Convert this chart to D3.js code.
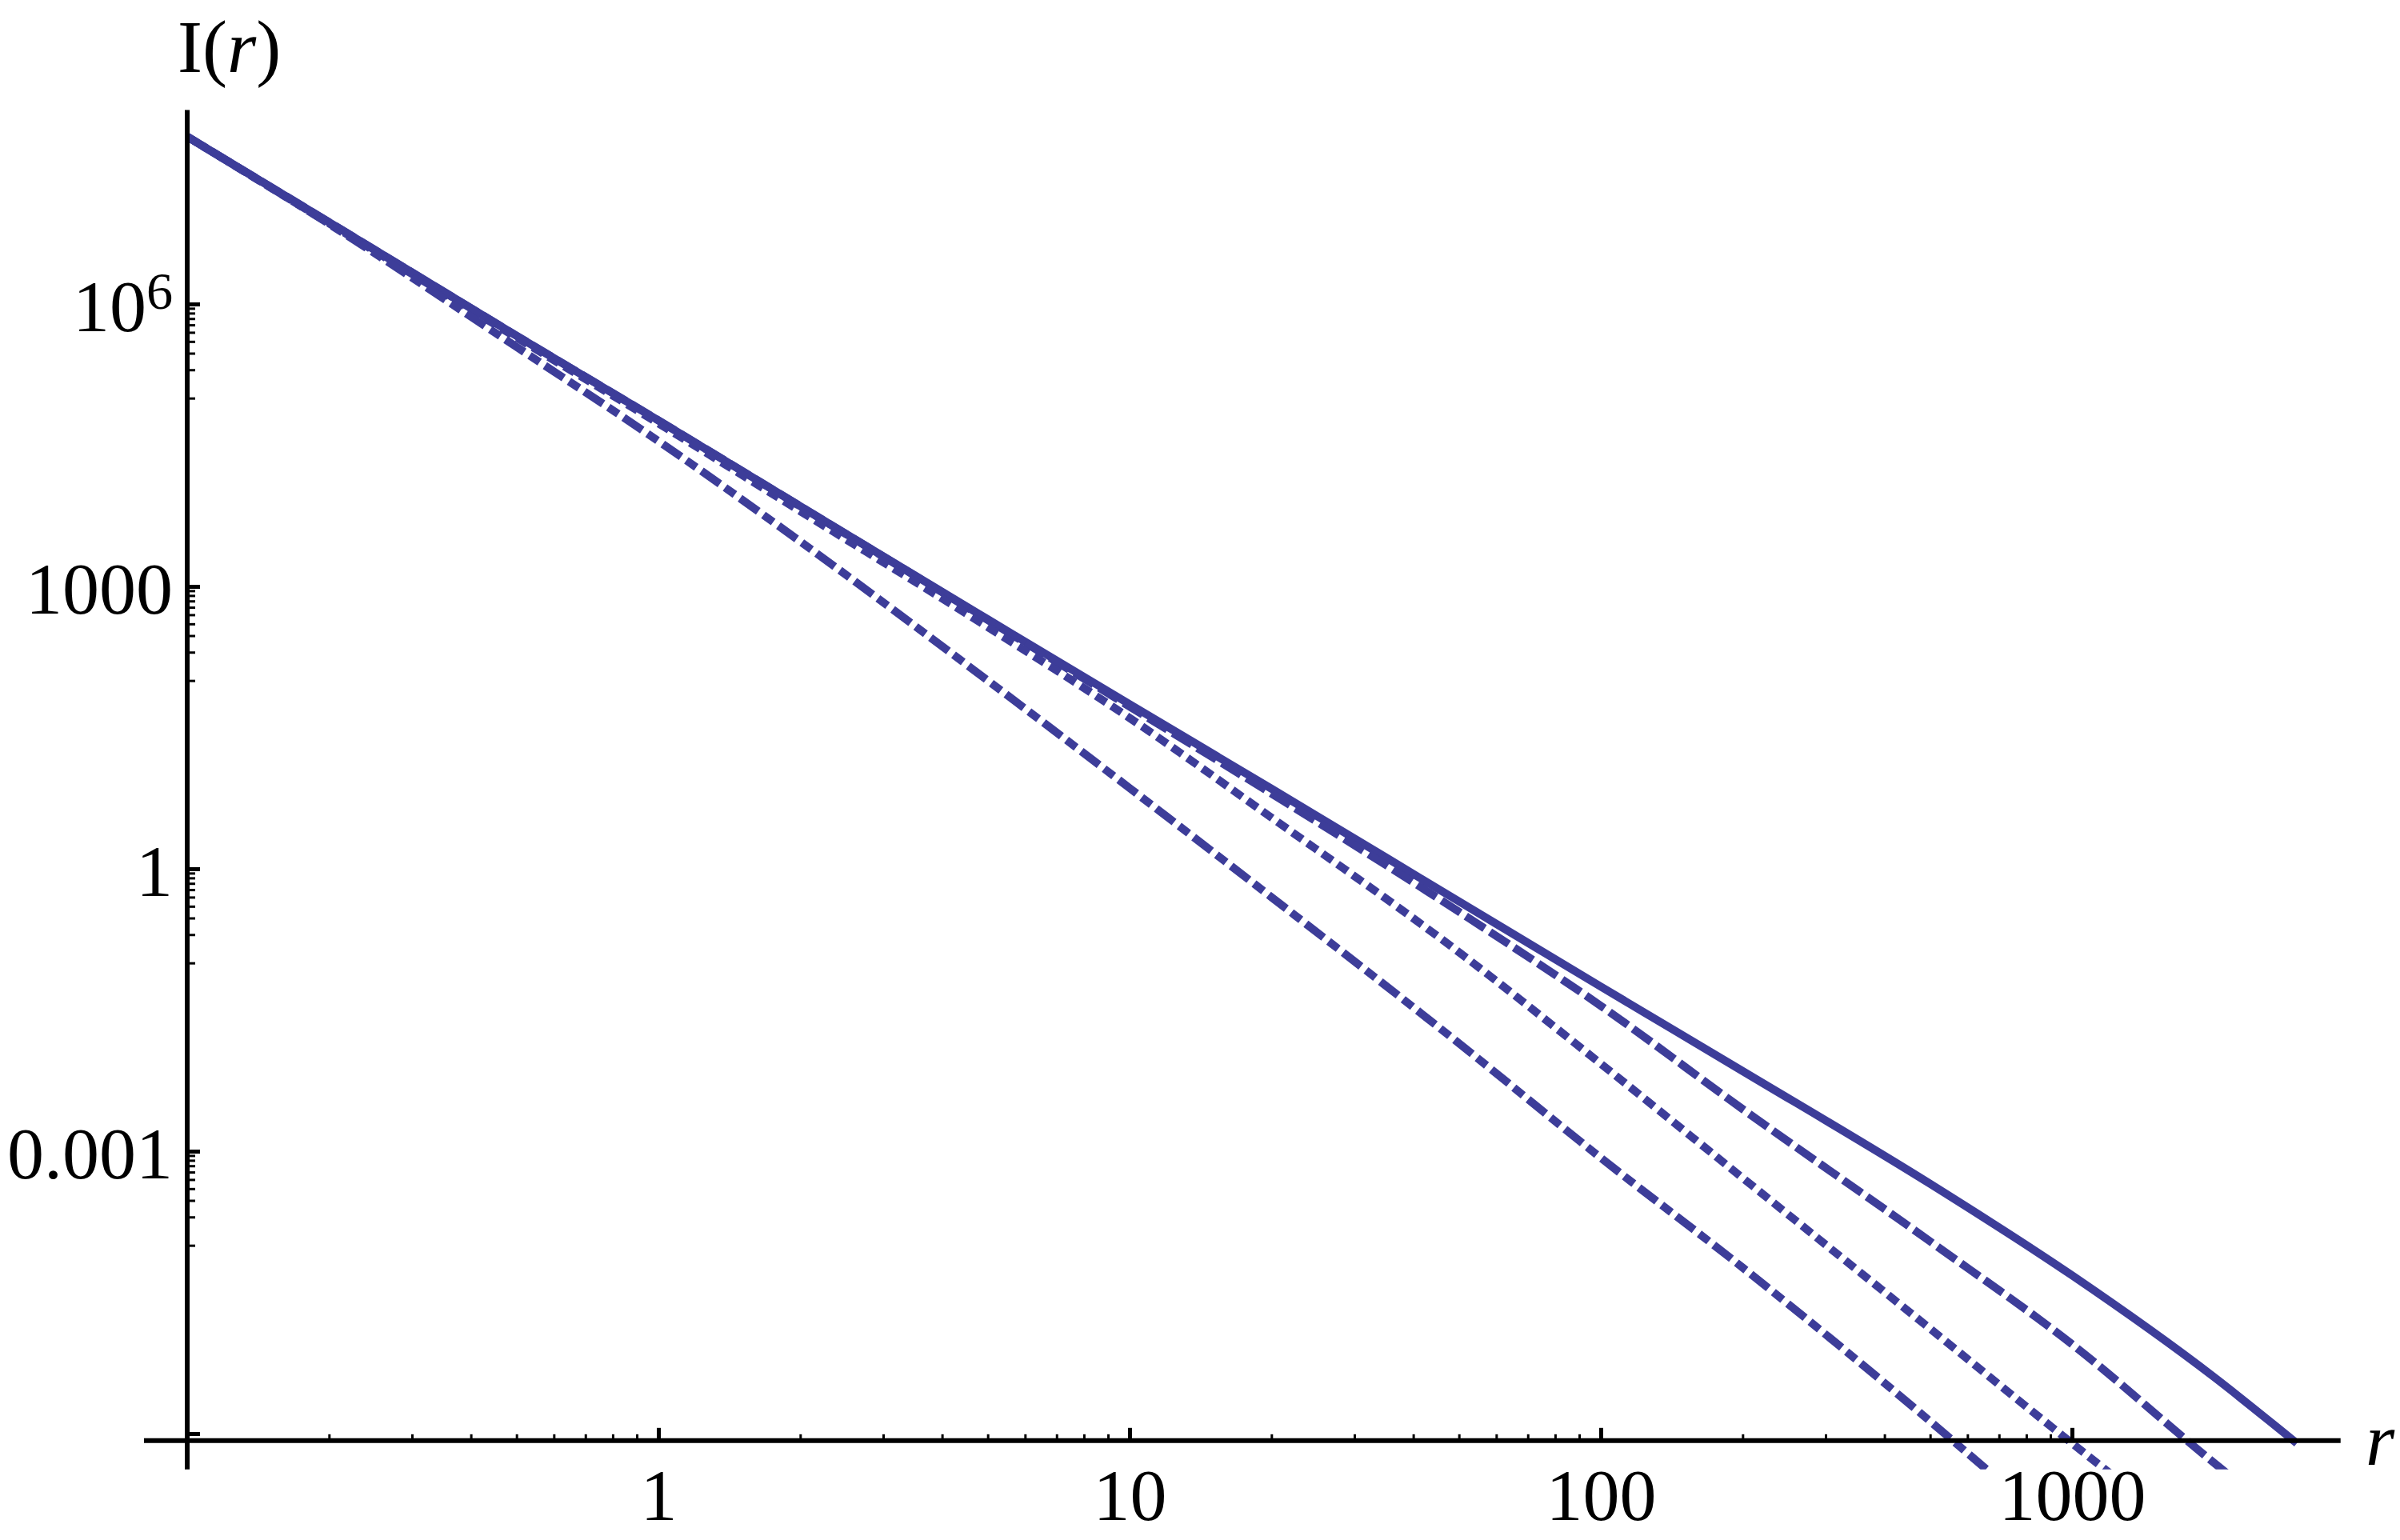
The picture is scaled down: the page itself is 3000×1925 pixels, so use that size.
<!DOCTYPE html>
<html>
<head>
<meta charset="utf-8">
<script src="https://cdn.jsdelivr.net/npm/d3@7"></script>
<style>
  html, body { margin: 0; padding: 0; background: #fff; }
  svg text { font-family: 'Liberation Serif', 'Times New Roman', serif; fill: #000; }
</style>
</head>
<body>
<svg id="chart"></svg>
<script>
'use strict';
// r values and I(r) values, one pair of arrays per curve
const R_SOLID = [0.1, 0.2, 0.5, 1, 2, 5, 10, 20, 50, 100, 200, 500, 1000, 2000, 3000];
const I_SOLID = [6.0e7, 7.4e6, 4.6e5, 5.8e4, 7.1e3, 447, 56, 7.1, 0.45, 0.056, 7.1e-3, 4.5e-4, 4.8e-5, 4.0e-6, 7.9e-7];

const R_DASHED = [0.1, 0.2, 0.5, 1, 2, 5, 10, 20, 50, 100, 200, 500, 1000, 2000, 2500];
const I_DASHED = [6.0e7, 7.4e6, 4.6e5, 5.8e4, 7.1e3, 440, 53, 6.3, 0.35, 0.035, 2.8e-3, 1.1e-4, 8.9e-6, 4.9e-7, 2.0e-7];

const R_DOTTED = [0.1, 0.2, 0.5, 1, 2, 5, 10, 20, 50, 100, 200, 500, 1000, 1500];
const I_DOTTED = [6.0e7, 7.2e6, 4.4e5, 5.4e4, 6.3e3, 370, 40, 3.5, 0.13, 8.5e-3, 5.2e-4, 1.3e-5, 7.9e-7, 1.6e-7];

const R_DASHDOT = [0.1, 0.2, 0.5, 1, 2, 5, 10, 20, 50, 100, 200, 500, 700];
const I_DASHDOT = [6.0e7, 7.1e6, 3.5e5, 3.5e4, 3.0e3, 100, 7.2, 0.5, 0.014, 8.5e-4, 5.8e-5, 1.35e-6, 3.2e-7];

const X_TICKS = [1, 10, 100, 1000];
const X_TICK_LABELS = ['1', '10', '100', '1000'];
const Y_TICKS = [1e6, 1e3, 1, 1e-3, 1e-6];
const Y_TICK_LABELS = ['10^6', '1000', '1', '0.001', ''];

const COLOR = '#3d3d99';
const WIDTH = 3000, HEIGHT = 1925;

const series = [
  { r: R_SOLID, v: I_SOLID, dash: null },
  { r: R_DASHED, v: I_DASHED, dash: '28,8' },
  { r: R_DOTTED, v: I_DOTTED, dash: '15,8' },
  { r: R_DASHDOT, v: I_DASHDOT, dash: '28,8,15,8' },
];

const svg = d3.select('#chart')
  .attr('width', WIDTH)
  .attr('height', HEIGHT)
  .attr('viewBox', `0 0 ${WIDTH} ${HEIGHT}`);

svg.append('rect').attr('width', WIDTH).attr('height', HEIGHT).attr('fill', '#fff');

let x = d3.scaleLog().domain([0.1, 1000]).range([234, 2590]);
let y = d3.scaleLog().domain([1e-6, 1e6]).range([1792, 380]);

// plot region edges (value space)
const xMax = Math.pow(10, 3.57);
const yTop = Math.pow(10, 8.06);
const yBottom = Math.pow(10, -6.38);
const axisYValue = Math.pow(10, -6.075);

svg.append('clipPath').attr('id', 'plotclip')
  .append('rect')
  .attr('x', x(0.1))
  .attr('y', y(yTop))
  .attr('width', x(xMax) - x(0.1))
  .attr('height', y(yBottom) - y(yTop));

// curves
let line = d3.line()
  .x((d) => x(d[0]))
  .y((d) => y(d[1]))
  .curve(d3.curveMonotoneX);

svg.append('g')
  .attr('clip-path', 'url(#plotclip)')
  .selectAll('path')
  .data(series)
  .enter()
  .append('path')
  .attr('d', (s) => line(s.r.map((r, i) => [r, s.v[i]])))
  .attr('fill', 'none')
  .attr('stroke', COLOR)
  .attr('stroke-width', 10)
  .attr('stroke-dasharray', (s) => s.dash);

// minor tick values
let xMinor = [];
[0.1, 1, 10, 100].forEach((p) => {
  for (let k = 2; k <= 9; k++) xMinor.push(k * p);
});
let yMinor = [];
[1e6, 1e3, 1, 1e-3].forEach((p) => {
  for (let k = 1; k <= 9; k++) yMinor.push(k * p / 10);
});

const axisY = y(axisYValue);
const axisX = x(0.1);

// X axis
let gx = svg.append('g').attr('transform', `translate(0,${axisY})`);
gx.append('g')
  .call(d3.axisBottom(x).tickValues(xMinor).tickSize(-8).tickFormat(''))
  .call((g) => g.select('.domain').remove())
  .call((g) => g.selectAll('.tick line').attr('stroke', '#000').attr('stroke-width', 3));
gx.append('g')
  .call(d3.axisBottom(x).tickValues(X_TICKS).tickSize(-16).tickPadding(34)
    .tickFormat((d, i) => X_TICK_LABELS[i]))
  .call((g) => g.select('.domain').remove())
  .call((g) => g.selectAll('.tick line').attr('stroke', '#000').attr('stroke-width', 5))
  .call((g) => g.selectAll('.tick text').attr('font-size', 92).attr('fill', '#000'));
gx.append('line')
  .attr('x1', 180).attr('x2', x(xMax))
  .attr('stroke', '#000').attr('stroke-width', 6);

// Y axis
let gy = svg.append('g').attr('transform', `translate(${axisX},0)`);
gy.append('g')
  .call(d3.axisLeft(y).tickValues(yMinor).tickSize(-10).tickFormat(''))
  .call((g) => g.select('.domain').remove())
  .call((g) => g.selectAll('.tick line').attr('stroke', '#000').attr('stroke-width', 3));
gy.append('g')
  .call(d3.axisLeft(y).tickValues(Y_TICKS).tickSize(-16).tickPadding(18)
    .tickFormat((d, i) => Y_TICK_LABELS[i]))
  .call((g) => g.select('.domain').remove())
  .call((g) => g.selectAll('.tick line').attr('stroke', '#000').attr('stroke-width', 5))
  .call((g) => g.selectAll('.tick text')
    .attr('font-size', 92).attr('fill', '#000').attr('dy', '0.36em')
    .each(function (d, i) {
      let label = Y_TICK_LABELS[i];
      if (label.indexOf('^') > 0) {
        let [base, exp] = label.split('^');
        let t = d3.select(this).text(base);
        t.append('tspan').attr('dy', '-0.42em').attr('font-size', '0.72em').text(exp);
      }
    }));
gy.append('line')
  .attr('y1', y(yTop)).attr('y2', y(yBottom))
  .attr('stroke', '#000').attr('stroke-width', 6);

// axis labels
svg.append('text')
  .attr('x', axisX - 12)
  .attr('y', 90)
  .attr('font-size', 93)
  .html('I(<tspan font-style="italic">r</tspan>)');

svg.append('text')
  .attr('x', 2957)
  .attr('y', 1831)
  .attr('font-size', 93)
  .attr('font-style', 'italic')
  .text('r');
</script>
</body>
</html>
